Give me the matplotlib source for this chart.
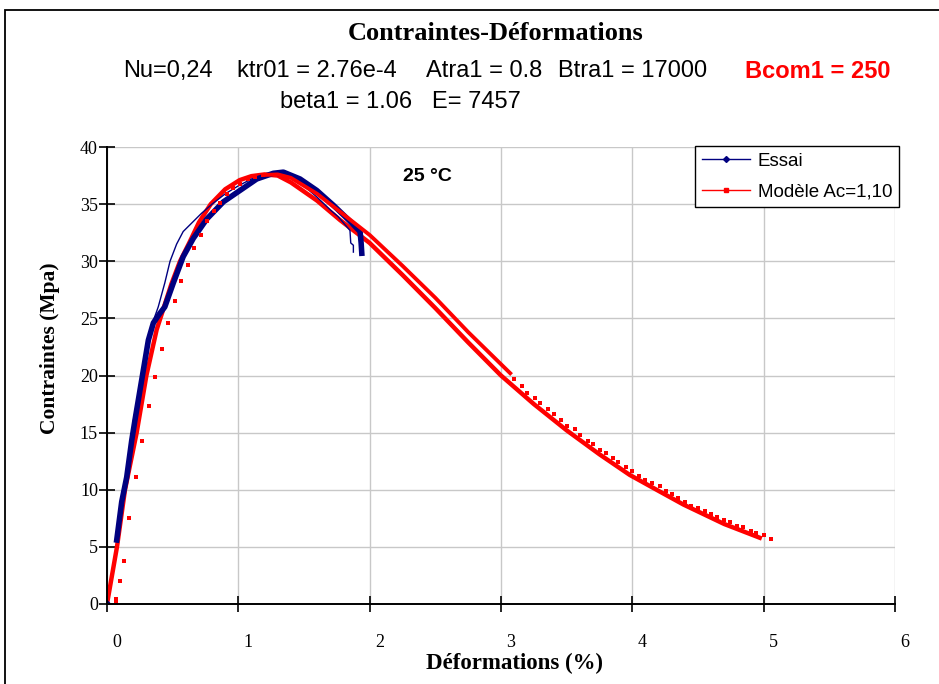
import numpy as np
import matplotlib
matplotlib.use("Agg")
from matplotlib import pyplot as plt
from matplotlib.lines import Line2D
from matplotlib.patches import Rectangle
import matplotlib.transforms as mtransforms

# essai (test) : dense band + thin trace
essai_x = [0.0, 0.074, 0.112, 0.15, 0.188, 0.213, 0.264, 0.315, 0.353, 0.40, 0.44, 0.505,
           0.58, 0.657, 0.76, 0.886, 1.013, 1.14, 1.267, 1.343, 1.47, 1.597, 1.724, 1.85,
           1.927, 1.935, 1.94]
essai_y = [0.0, 5.6, 8.95, 11.1, 14.3, 16.1, 19.6, 23.1, 24.6, 25.4, 26.0, 28.1,
           30.4, 32.0, 33.7, 35.2, 36.2, 37.2, 37.7, 37.8, 37.2, 36.2, 34.9, 33.5,
           32.6, 31.6, 30.7]
trace_x = [0.2, 0.3, 0.353, 0.39, 0.44, 0.48, 0.53, 0.58, 0.65, 0.72, 0.8, 0.9, 1.0, 1.1,
           1.25, 1.4, 1.5, 1.6, 1.7, 1.76, 1.85, 1.856, 1.876, 1.876]
trace_y = [16.0, 22.0, 24.8, 26.0, 28.1, 30.0, 31.5, 32.6, 33.4, 34.2, 35.0, 35.9, 36.6, 37.2,
           37.6, 37.3, 36.6, 35.6, 34.5, 33.9, 32.7, 31.6, 31.4, 30.8]

# modele : main curve
ma_x = [0.0, 0.076, 0.137, 0.226, 0.30, 0.378, 0.42, 0.49, 0.556, 0.63, 0.70, 0.79, 0.90,
        1.01, 1.10, 1.2, 1.3, 1.4, 1.6, 1.775, 2.0, 2.25, 2.5, 2.75, 3.0, 3.25, 3.5, 3.75,
        3.98, 4.2, 4.39, 4.7, 4.97]
ma_y = [0.0, 5.0, 10.0, 15.0, 20.0, 24.0, 25.5, 28.0, 30.0, 31.7, 33.4, 35.0, 36.3,
        37.1, 37.45, 37.6, 37.5, 36.9, 35.3, 33.6, 31.6, 28.8, 25.9, 22.9, 20.0, 17.5, 15.2, 13.1,
        11.3, 9.9, 8.7, 7.0, 5.8]

# modele : second run (sparse loading, dense unloading, sparse tail)
mb_rise_x = [0.069, 0.069, 0.099, 0.127, 0.17, 0.223, 0.269, 0.322, 0.366, 0.421, 0.467, 0.52,
             0.566, 0.62, 0.663, 0.716, 0.764, 0.815, 0.861, 0.917, 0.962, 1.01, 1.07, 1.13, 1.19]
mb_rise_y = [0.1, 0.4, 2.0, 3.8, 7.5, 11.1, 14.3, 17.3, 19.9, 22.3, 24.6, 26.5,
             28.3, 29.7, 31.2, 32.3, 33.5, 34.4, 35.1, 35.9, 36.4, 36.8, 37.2, 37.4, 37.55]
mb_desc_x = [1.19, 1.3, 1.4, 1.6, 1.8, 2.0, 2.25, 2.5, 2.75, 3.07]
mb_desc_y = [37.55, 37.6, 37.3, 35.9, 34.1, 32.3, 29.6, 26.8, 23.8, 20.2]
mb_tail_x = [3.10, 3.16, 3.20, 3.26, 3.30, 3.36, 3.40, 3.46, 3.50, 3.56,
             3.60, 3.66, 3.70, 3.755, 3.80, 3.856, 3.894, 3.953, 3.996, 4.05,
             4.10, 4.15, 4.207, 4.255, 4.305, 4.35, 4.40, 4.45, 4.50, 4.55,
             4.60, 4.645, 4.70, 4.745, 4.80, 4.84, 4.90, 4.94, 5.0, 5.055]
mb_tail_y = [19.7, 19.1, 18.5, 18.05, 17.6, 17.1, 16.6, 16.1, 15.6, 15.3,
             14.8, 14.3, 14.0, 13.5, 13.2, 12.75, 12.4, 12.0, 11.6, 11.2,
             10.85, 10.6, 10.3, 9.9, 9.6, 9.25, 8.9, 8.6, 8.4, 8.1,
             7.85, 7.6, 7.35, 7.15, 6.85, 6.7, 6.35, 6.2, 6.05, 5.7]

NAVY = '#000080'
RED = '#ff0000'
serif = 'Liberation Serif'
sans = 'Liberation Sans'

fig = plt.figure(figsize=(9.39, 6.84), dpi=100)
ax = fig.add_axes([107/939, 1-604/684, (895-107)/939, (604-147)/684])

ax.plot(ma_x, ma_y, color=RED, lw=3.2, solid_joinstyle='round', zorder=3)
ax.plot(essai_x[1:], essai_y[1:], color=NAVY, lw=4.0, solid_joinstyle='round', zorder=4)
ax.plot(essai_x[:1], essai_y[:1], 'D', color=NAVY, ms=3.5, zorder=4)
ax.plot(trace_x, trace_y, color=NAVY, lw=1.0, zorder=4)
ax.plot(mb_rise_x, mb_rise_y, 's', color=RED, ms=2.8, mew=0, zorder=5)
ax.plot(mb_desc_x, mb_desc_y, color=RED, lw=2.8, solid_joinstyle='round', zorder=5)
ax.plot(mb_tail_x, mb_tail_y, 's', color=RED, ms=2.8, mew=0, zorder=5)

ax.text(2.44, 37.4, '25 °C', family=sans, fontweight='bold', fontsize=14,
        ha='center', va='center')

ax.set_xlim(0, 6)
ax.set_ylim(0, 40)
ax.set_xticks(range(0, 7))
ax.set_yticks(range(0, 41, 5))
ax.grid(True, color='#c8c8c8', lw=1.0)
ax.set_axisbelow(True)
for s in ['top', 'right']:
    ax.spines[s].set_visible(False)
for s in ['left', 'bottom']:
    ax.spines[s].set_linewidth(1.4)
    ax.spines[s].set_zorder(6)
ax.tick_params(direction='inout', length=11, width=1.2, labelsize=13)
ax.tick_params(axis='x', pad=16)
ax.tick_params(axis='y', pad=1)
for lab in ax.get_xticklabels() + ax.get_yticklabels():
    lab.set_family(serif)
shift = mtransforms.ScaledTranslation(0.10, 0, fig.dpi_scale_trans)
for lab in ax.get_xticklabels():
    lab.set_transform(lab.get_transform() + shift)

ax.set_xlabel('Déformations (%)', family=serif, fontweight='bold', fontsize=16.5, va='center')
ax.set_ylabel('Contraintes (Mpa)', family=serif, fontweight='bold', fontsize=15.5, va='center')
ax.xaxis.set_label_coords((514-107)/788, -(663-604)/457)
ax.yaxis.set_label_coords((50-107)/788, (604-348)/457)

handles = [Line2D([], [], color=NAVY, lw=1, marker='D', ms=3),
           Line2D([], [], color=RED, lw=1, marker='s', ms=3)]
leg = fig.legend(handles, ['Essai', 'Modèle Ac=1,10'], loc='upper left',
                 bbox_to_anchor=(695/939, 1-146/684), prop={'family': sans, 'size': 13.5},
                 frameon=True, fancybox=False, edgecolor='black', framealpha=1,
                 handlelength=2.6, handletextpad=0.4, borderpad=0.35, labelspacing=0.75,
                 borderaxespad=0)
leg.get_frame().set_linewidth(1.0)

fig.text(496/939, 1-33/684, 'Contraintes-Déformations', family=serif, fontweight='bold',
         fontsize=19, ha='center', va='center')

# parameter line, each group placed on its own
params_1 = ['Nu=0,24', 'ktr01 = 2.76e-4', 'Atra1 = 0.8', 'Btra1 = 17000']
params_1_x = [123, 237, 426, 558]
for txt, px in zip(params_1, params_1_x):
    fig.text(px/939, 1-71/684, txt, family=sans, fontsize=17, ha='left', va='center')
fig.text(745/939, 1-71/684, 'Bcom1 = 250', family=sans, fontweight='bold', color=RED,
         fontsize=17, ha='left', va='center')
params_2 = ['beta1 = 1.06', 'E= 7457']
params_2_x = [280, 432]
for txt, px in zip(params_2, params_2_x):
    fig.text(px/939, 1-102/684, txt, family=sans, fontsize=17, ha='left', va='center')

fig.add_artist(Rectangle((5/939, -0.1), 1.2, 1.1-10/684, transform=fig.transFigure,
                         fill=False, edgecolor='black', lw=1.3))

fig.savefig('out.png', dpi=100)
